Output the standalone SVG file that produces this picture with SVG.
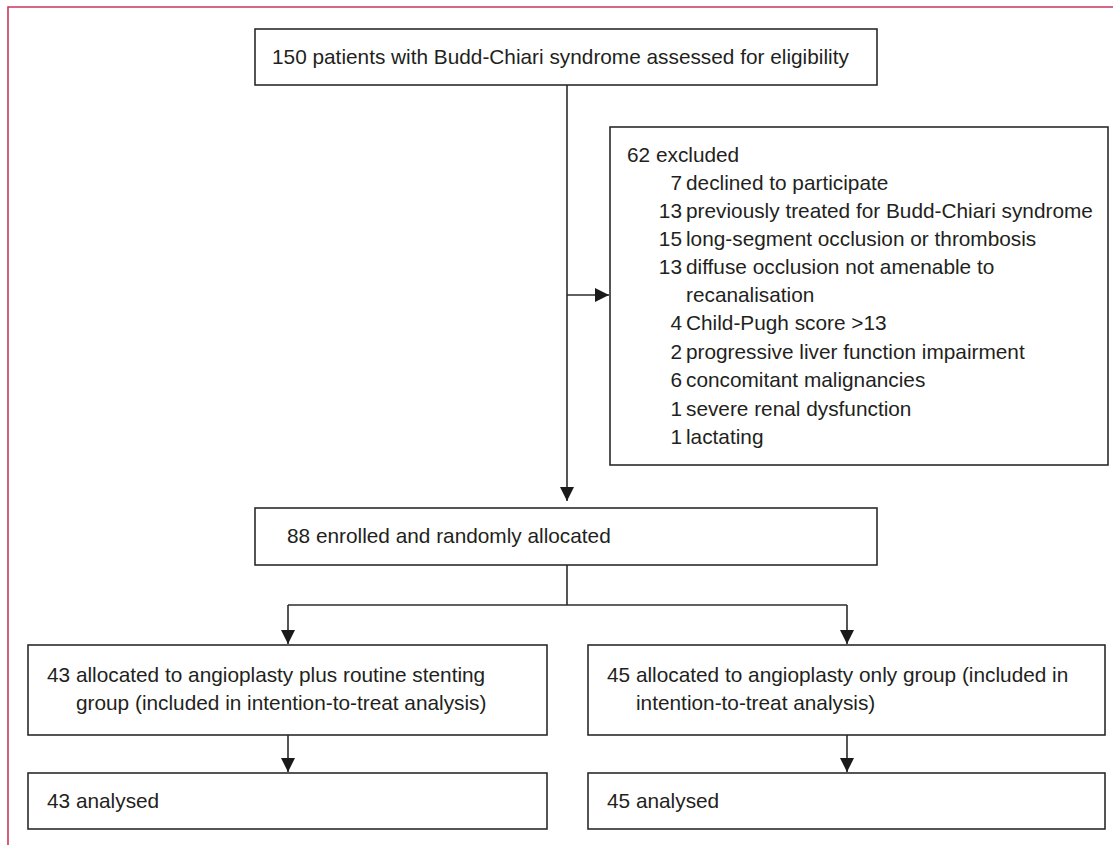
<svg xmlns="http://www.w3.org/2000/svg" width="1113" height="845" viewBox="0 0 1113 845">
<style>
.box{fill:#fff;stroke:#2b2b2b;stroke-width:1.6}
.t{font-family:"Liberation Sans",Arial,sans-serif;font-size:20.8px;fill:#231f20}
.c{fill:none;stroke:#2b2b2b;stroke-width:1.6}
</style>
<defs>
<marker id="ah" viewBox="0 0 14 14" refX="14" refY="7" markerWidth="14" markerHeight="14" markerUnits="userSpaceOnUse" orient="auto">
<path d="M0,0 L14,7 L0,14 z" fill="#1a1a1a"/>
</marker>
</defs>
<rect width="1113" height="845" fill="#fff"/>
<path d="M8,845 V7 H1113" fill="none" stroke="#c8375c" stroke-width="1.6"/>
<g id="connectors">
<path class="c" d="M567,85 V501" marker-end="url(#ah)"/>
<path class="c" d="M567,295 H609" marker-end="url(#ah)"/>
<path class="c" d="M567,565 V605"/>
<path class="c" d="M288,605 H847"/>
<path class="c" d="M288,605 V644" marker-end="url(#ah)"/>
<path class="c" d="M847,605 V644" marker-end="url(#ah)"/>
<path class="c" d="M288,735 V772" marker-end="url(#ah)"/>
<path class="c" d="M847,735 V772" marker-end="url(#ah)"/>
</g>
<g id="assessed">
<rect class="box" x="255" y="29" width="622" height="56"/>
<text class="t" x="272" y="64">150 patients with Budd-Chiari syndrome assessed for eligibility</text>
</g>
<g id="excluded">
<rect class="box" x="610" y="127" width="498" height="338"/>
<text class="t" x="627" y="162">62 excluded</text>
<text class="t" text-anchor="end" x="682" y="190">7</text><text class="t" x="686" y="190">declined to participate</text>
<text class="t" text-anchor="end" x="682" y="218">13</text><text class="t" x="686" y="218">previously treated for Budd-Chiari syndrome</text>
<text class="t" text-anchor="end" x="682" y="246">15</text><text class="t" x="686" y="246">long-segment occlusion or thrombosis</text>
<text class="t" text-anchor="end" x="682" y="274">13</text><text class="t" x="686" y="274">diffuse occlusion not amenable to</text>
<text class="t" x="686" y="302">recanalisation</text>
<text class="t" text-anchor="end" x="682" y="330">4</text><text class="t" x="686" y="330">Child-Pugh score &gt;13</text>
<text class="t" text-anchor="end" x="682" y="359">2</text><text class="t" x="686" y="359">progressive liver function impairment</text>
<text class="t" text-anchor="end" x="682" y="387">6</text><text class="t" x="686" y="387">concomitant malignancies</text>
<text class="t" text-anchor="end" x="682" y="416">1</text><text class="t" x="686" y="416">severe renal dysfunction</text>
<text class="t" text-anchor="end" x="682" y="444">1</text><text class="t" x="686" y="444">lactating</text>
</g>
<g id="enrolled">
<rect class="box" x="255" y="508" width="622" height="57"/>
<text class="t" x="287" y="543">88 enrolled and randomly allocated</text>
</g>
<g id="stent">
<rect class="box" x="28" y="645" width="519" height="90"/>
<text class="t" x="47" y="682">43 allocated to angioplasty plus routine stenting</text>
<text class="t" x="76" y="710">group (included in intention-to-treat analysis)</text>
</g>
<g id="angio">
<rect class="box" x="588" y="645" width="517" height="90"/>
<text class="t" x="607" y="682">45 allocated to angioplasty only group (included in</text>
<text class="t" x="636" y="710">intention-to-treat analysis)</text>
</g>
<g id="analysed43">
<rect class="box" x="28" y="773" width="519" height="56"/>
<text class="t" x="47" y="808">43 analysed</text>
</g>
<g id="analysed45">
<rect class="box" x="588" y="773" width="517" height="56"/>
<text class="t" x="607" y="808">45 analysed</text>
</g>
</svg>
